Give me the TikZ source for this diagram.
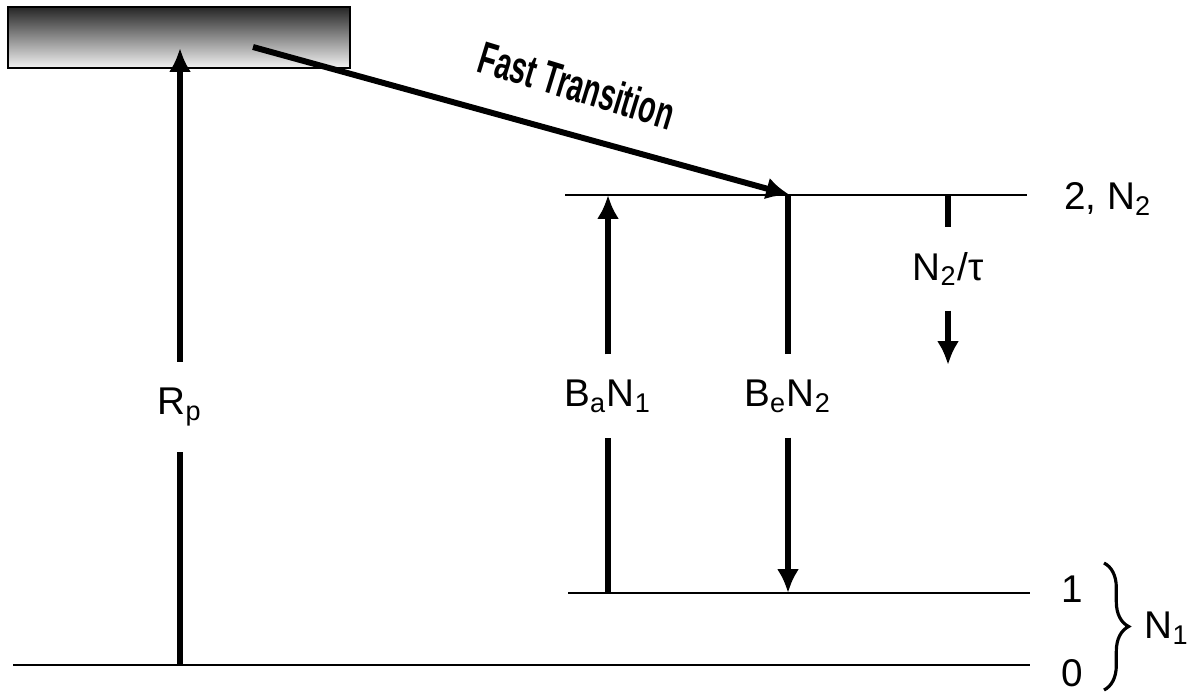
\documentclass[tikz,border=0pt]{standalone}
\usepackage{fontspec}
\setmainfont{Liberation Sans}
\usetikzlibrary{arrows.meta,decorations.pathreplacing}

\begin{document}
\begin{tikzpicture}[x = 0.1mm, y = -0.1mm,
  level/.style = {line width=0.7pt},
  trans/.style = {line width=1.7pt},
  transarr/.style = {trans, -{Latex[length=6.8pt,width=6.3pt]}},
  lbl/.style = {font=\fontsize{11}{13}\selectfont, inner sep=0pt, minimum height=8.2mm},
  txt/.style = {font=\fontsize{11}{13}\selectfont, inner sep=0pt}]
\useasboundingbox (0,0) rectangle (1195,692);

\coordinate (g0a) at (13,665);   \coordinate (g0b) at (1030,665);
\coordinate (l1a) at (568,593);  \coordinate (l1b) at (1030,593);
\coordinate (l2a) at (565,195);  \coordinate (l2b) at (1027,195);

\draw[line width=0.6pt, top color=black!85, bottom color=black!5]
  (8,7) rectangle (350,68);

\draw[level] (g0a) -- (g0b);
\draw[level] (l1a) -- (l1b);
\draw[level] (l2a) -- (l2b);

\node[lbl, minimum height=8.9mm] (Rp) at (180,407) {R\textsubscript{p}};
\coordinate (rpfoot) at (180,665);
\coordinate (rptip) at (180,48);
\draw[trans] (rpfoot) -- (Rp);
\draw[transarr] (Rp) -- (rptip);

\coordinate (ftstart) at (253,47);
\coordinate (ftend) at (790,195);
\draw[transarr] (ftstart) -- (ftend);
\node[font=\bfseries\fontsize{13}{15}\selectfont, rotate=-17, inner sep=0pt] (ft) at (577,85)
  {\scalebox{0.62}[1]{Fast Transition}};

\node[lbl] (BaN) at (608,396) {B\textsubscript{a}N\textsubscript{1}};
\coordinate (bafoot) at (608,593);
\coordinate (batip) at (608,195);
\draw[trans] (bafoot) -- (BaN);
\draw[transarr] (BaN) -- (batip);

\node[lbl] (BeN) at (788,396) {B\textsubscript{e}N\textsubscript{2}};
\coordinate (betop) at (788,195);
\coordinate (betip) at (788,593);
\draw[trans] (betop) -- (BeN);
\draw[transarr] (BeN) -- (betip);

\node[lbl] (Ntau) at (948,269) {N\textsubscript{2}/τ};
\coordinate (tautop) at (948,195);
\coordinate (tautip) at (948,365);
\draw[trans] (tautop) -- (Ntau);
\draw[transarr] (Ntau) -- (tautip);

\node[txt] (lev2) at (1108,199) {2, N\textsubscript{2}};
\node[txt] (lev1) at (1072,589) {1};
\node[txt] (lev0) at (1072,673) {0};

\coordinate (brtop) at (1104,563);
\coordinate (brbot) at (1104,690);
\draw[line width=0.9pt, decorate, decoration={brace, amplitude=7pt}] (brtop) -- (brbot);
\node[txt, anchor=west] (N1) at (1144,628) {N\textsubscript{1}};
\end{tikzpicture}
\end{document}
